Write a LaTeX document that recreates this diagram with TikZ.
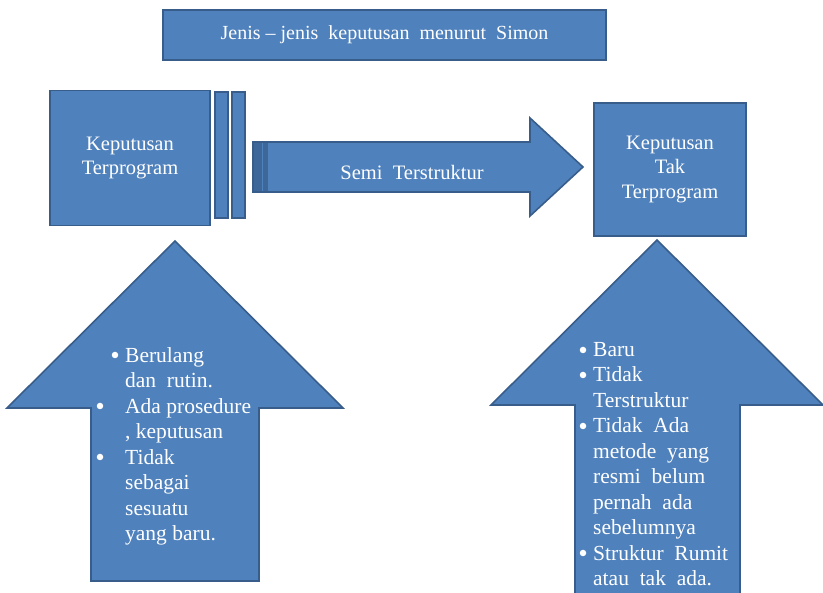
\documentclass[tikz,border=0pt]{standalone}
\usepackage{fontspec}
\setmainfont{Liberation Serif}
\usetikzlibrary{positioning}
\definecolor{boxblue}{HTML}{4F81BD}
\definecolor{edgeblue}{HTML}{385D8A}
\definecolor{bandblue}{HTML}{3D6699}

\begin{document}
\begin{tikzpicture}[x=1pt,y=-1pt,font=\fontsize{20.5}{24.5}\selectfont,
  blok/.style={draw=edgeblue,line width=1.6pt,fill=boxblue,text=white,align=center,inner sep=0pt},
  bentuk/.style={draw=edgeblue,line width=1.6pt,fill=boxblue,line join=miter},
  isi/.style={text=white,align=left,anchor=north west,inner sep=0pt,font=\fontsize{21.5}{25.5}\selectfont},
  titik/.style={circle,fill=white,inner sep=0pt,minimum size=6.5pt}]
  \useasboundingbox (0,0) rectangle (823,593);
  \clip (0,0) rectangle (823,593);

  % judul
  \node[blok,minimum width=443pt,minimum height=50pt,font=\fontsize{20}{24}\selectfont] (judul) at (384.5,35)
    {Jenis -- jenis\ \ keputusan\ \ menurut\ \ Simon};

  % kotak kiri dan dua batang
  \node[blok,minimum width=160pt,minimum height=135pt] (kiri) at (130,158)
    {Keputusan\\Terprogram};
  \node[blok,minimum width=13pt,minimum height=126pt] (batang1) at (221.5,155) {};
  \node[blok,minimum width=13pt,minimum height=126pt] (batang2) at (238.5,155) {};

  % kotak kanan
  \node[blok,minimum width=152pt,minimum height=133pt] (kanan) at (670,169.5)
    {Keputusan\\Tak\\Terprogram};

  % panah ke kanan
  \draw[bentuk] (253,142) -- (530,142) -- (530,118) -- (583,167) -- (530,216)
    -- (530,192) -- (253,192) -- cycle;
  \fill[bandblue] (254,143) rectangle (268,191);
  \draw[boxblue,line width=0.8pt] (262,143) -- (262,191);
  \node[text=white] (semi) at (412,172) {Semi\ \ Terstruktur};

  % panah ke atas kiri
  \draw[bentuk] (91,581) -- (91,408) -- (7,408) -- (175,241) -- (343,408)
    -- (259,408) -- (259,581) -- cycle;
  \node[isi] (ciri1) at (125,347) {Berulang\\dan\ \ rutin.\\Ada prosedure\\, keputusan\\Tidak\\sebagai\\sesuatu\\yang baru.};
  \node[titik] (b11) at (115,355) {};
  \node[titik] (b12) at (100,406) {};
  \node[titik] (b13) at (100,457) {};

  % panah ke atas kanan
  \draw[bentuk] (575,600) -- (575,405) -- (491,405) -- (657,240) -- (823,405)
    -- (740,405) -- (740,600) -- cycle;
  \node[isi] (ciri2) at (593,342) {Baru\\Tidak\\Terstruktur\\Tidak\ \ Ada\\metode\ \ yang\\resmi\ \ belum\\pernah\ \ ada\\sebelumnya\\Struktur\ \ Rumit\\atau\ \ tak\ \ ada.};
  \node[titik] (b21) at (583,350) {};
  \node[titik] (b22) at (583,375) {};
  \node[titik] (b23) at (583,426) {};
  \node[titik] (b24) at (583,553) {};
\end{tikzpicture}
\end{document}
